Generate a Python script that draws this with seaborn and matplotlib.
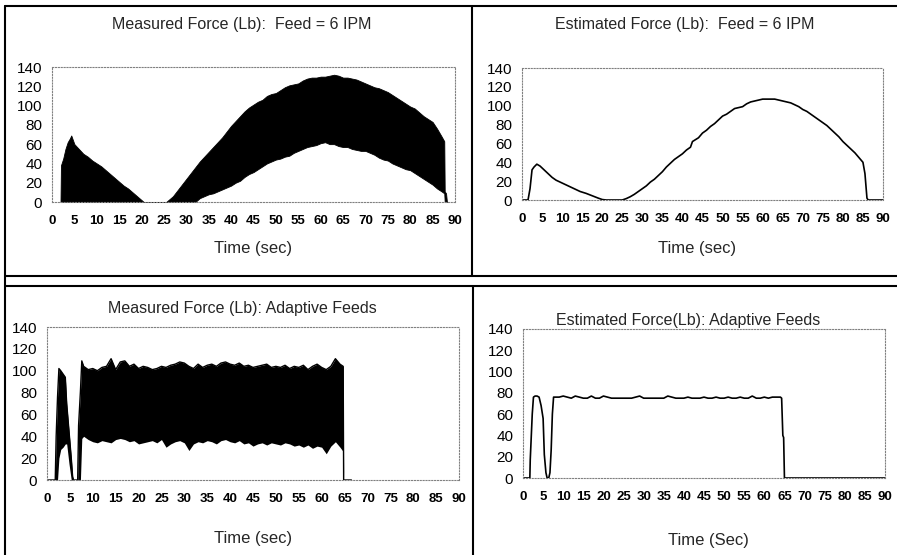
import matplotlib
matplotlib.use("Agg")
import matplotlib.pyplot as plt
from matplotlib.lines import Line2D
import seaborn as sns
import pandas as pd

sns.set_style("white")
plt.rcParams['font.family'] = ['Liberation Sans', 'DejaVu Sans']

# --- Measured force, feed = 6 IPM (envelope of the dense signal) ---
tl_time = [1.9, 2.0, 2.5, 3, 3.5, 4, 4.3, 5, 6, 7, 8, 9, 10, 11, 12, 13, 14, 15, 16, 17, 18, 19, 20, 20.5,
           25.5, 26, 27, 28, 29, 30, 31, 32, 33, 34, 35, 36, 37, 38, 39, 40, 41, 42, 43, 44, 45, 46, 47, 48,
           49, 50, 51, 52, 53, 54, 55, 56, 57, 58, 59, 60, 61, 62, 63, 64, 65, 66, 67, 68, 69, 70, 71, 72,
           73, 74, 75, 76, 77, 78, 79, 80, 81, 82, 83, 84, 85, 86, 87, 87.6, 87.7, 88, 88.2]
tl_upper = [0, 38, 45, 55, 62, 66, 69, 60, 55, 50, 47, 43, 40, 37, 33, 29, 25, 21, 17, 14, 10, 6, 2, 0,
            0, 2, 6, 12, 18, 24, 30, 36, 42, 47, 52, 57, 62, 67, 73, 79, 84, 89, 94, 98, 101, 104, 106, 110,
            112, 113, 116, 119, 121, 122, 123, 126, 128, 129, 129, 130, 130, 131, 132, 131, 129, 129, 128, 127, 125, 123, 121, 119,
            118, 116, 114, 111, 108, 105, 102, 99, 97, 93, 89, 86, 83, 76, 68, 63, 11, 9, 0]
tl_lower = [0, 0, 0, 0, 0, 0, 0, 0, 0, 0, 0, 0, 0, 0, 0, 0, 0, 0, 0, 0, 0, 0, 0, 0,
            0, 0, 0, 0, 0, 0, 0, 0, 4, 6, 8, 9, 11, 13, 15, 17, 20, 22, 26, 29, 31, 34, 37, 40,
            42, 44, 45, 47, 48, 51, 53, 55, 57, 58, 59, 61, 62, 60, 60, 58, 57, 57, 55, 54, 53, 53, 51, 49,
            46, 44, 43, 40, 38, 36, 34, 33, 30, 27, 24, 21, 18, 14, 11, 9, 0, 0, 0]

# --- Estimated force, feed = 6 IPM ---
tr_time = [0, 1.5, 2, 2.5, 3, 3.7, 4.5, 5.5, 6.5, 7.5, 8.5, 10, 11.5, 13, 14.5, 16, 17.5, 19, 20, 21, 25,
           26, 27, 28, 29, 30, 31, 32, 33, 34, 35, 36, 37, 38, 39, 40, 41, 42, 42.5, 44, 45, 46, 47, 48, 49,
           50, 51, 52, 53, 54, 55, 56, 57, 58, 59, 60, 61, 62, 63, 64, 65, 66, 67, 68, 69, 70, 71, 72, 73,
           74, 75, 76, 77, 78, 79, 80, 81, 82, 83, 84, 85, 85.5, 86, 86.3, 90]
tr_force = [0, 0, 12, 32, 35, 38, 36, 32, 28, 24, 21, 18, 15, 12, 9, 7, 4.5, 2, 0.5, 0, 0,
            1.5, 3.5, 6, 9, 12, 15, 19, 22, 26, 30, 35, 39, 43, 46, 49, 53, 56, 62, 66, 71, 74, 78, 81, 85,
            89, 91, 94, 97, 98, 99, 102, 104, 105, 106, 107, 107, 107, 107, 106, 105, 104, 103, 101, 99, 96, 94, 91, 88,
            85, 82, 79, 75, 71, 67, 62, 58, 54, 50, 45, 40, 28, 2, 0, 0]

# --- Measured force, adaptive feeds (envelope) ---
bl_time = [0, 1.8, 2.0, 2.3, 2.6, 3.0, 3.5, 4.0, 4.3, 4.8, 5.3, 5.6, 5.8, 6.7, 6.9, 7.3, 7.6,
           8, 9, 10, 11, 12, 13, 14, 15, 16, 17, 18, 19, 20, 21, 22, 23, 24, 25, 26, 27, 28, 29, 30,
           31, 32, 33, 34, 35, 36, 37, 38, 39, 40, 41, 42, 43, 44, 45, 46, 47, 48, 49, 50, 51, 52, 53,
           54, 55, 56, 57, 58, 59, 60, 61, 62, 63, 64, 64.7, 64.8, 66.5]
bl_upper = [0, 0, 40, 76, 102, 100, 97, 94, 70, 45, 20, 3, 0, 0, 50, 81, 109,
            104, 101, 102, 100, 103, 104, 111, 101, 108, 109, 104, 106, 102, 104, 103, 101, 102, 104, 103, 105, 106, 108, 107,
            104, 102, 106, 103, 105, 106, 104, 107, 108, 106, 105, 107, 104, 105, 103, 104, 105, 106, 103, 104, 103, 105, 102,
            104, 103, 105, 101, 104, 106, 103, 101, 104, 111, 106, 104, 0, 0]
bl_lower = [0, 0, 0, 0, 20, 28, 30, 33, 33, 15, 0, 0, 0, 0, 0, 0, 38,
            40, 37, 35, 34, 36, 35, 34, 37, 38, 37, 35, 36, 33, 34, 35, 36, 34, 37, 30, 33, 35, 36, 34,
            27, 33, 35, 34, 36, 35, 33, 36, 37, 35, 34, 36, 33, 34, 31, 33, 34, 32, 34, 33, 32, 34, 33,
            31, 32, 30, 32, 29, 31, 30, 24, 31, 35, 30, 26, 0, 0]

# --- Estimated force, adaptive feeds ---
br_time = [0, 1.7, 1.8, 2.3, 2.6, 3, 3.5, 4, 4.5, 5, 5.3, 5.7, 6.0, 6.4, 6.7, 7.0, 7.3, 7.6,
           8, 9, 10, 11, 12, 13, 14, 15, 16, 17, 18, 19, 20, 21, 22, 23, 24, 25, 26, 27, 28, 29, 30,
           31, 32, 33, 34, 35, 36, 37, 38, 39, 40, 41, 42, 43, 44, 45, 46, 47, 48, 49, 50, 51, 52, 53,
           54, 55, 56, 57, 58, 59, 60, 61, 62, 63, 64, 64.3, 64.6, 64.8, 65.0, 90]
br_force = [0, 0, 17, 60, 76, 77, 77, 76, 68, 56, 22, 5, 0, 0, 5, 26, 60, 76,
            76, 76, 77, 76, 75, 77, 76, 75, 75, 77, 75, 75, 77, 76, 75, 75, 75, 75, 75, 75, 76, 77, 75,
            75, 75, 75, 75, 75, 77, 76, 75, 75, 75, 76, 75, 75, 75, 76, 75, 75, 76, 75, 75, 76, 75, 75,
            76, 75, 75, 77, 75, 75, 76, 75, 76, 76, 76, 75, 40, 38, 0, 0]

titles = ["Measured Force (Lb):  Feed = 6 IPM", "Estimated Force (Lb):  Feed = 6 IPM",
          "Measured Force (Lb): Adaptive Feeds", "Estimated Force(Lb): Adaptive Feeds"]
xlabels = ["Time (sec)", "Time (sec)", "Time (sec)", "Time (Sec)"]
x_ticks = list(range(0, 95, 5))
y_ticks = list(range(0, 160, 20))

W, H = 897, 555
fig = plt.figure(figsize=(W / 100, H / 100), dpi=100)


def px_rect(x0, y0, x1, y1):
    return [x0 / W, 1 - y1 / H, (x1 - x0) / W, (y1 - y0) / H]


def style(ax):
    ax.set_xlim(0, 90)
    ax.set_ylim(0, 140)
    ax.set_xticks(x_ticks)
    ax.set_yticks(y_ticks)
    ax.set_xlabel("")
    ax.set_ylabel("")
    for sp in ax.spines.values():
        sp.set_visible(True)
        sp.set_color("#808080")
        sp.set_linewidth(0.8)
        sp.set_linestyle((0, (1, 1.6)))
    ax.tick_params(axis="x", direction="out", length=2.5, width=0.7, color="#555555",
                   pad=7, labelsize=9.5, labelcolor="black")
    ax.tick_params(axis="y", direction="out", length=2.5, width=0.7, color="#555555",
                   pad=4.5, labelsize=11, labelcolor="black")
    for lab in ax.get_xticklabels():
        lab.set_fontweight("bold")


# panel rectangles (pixels)
rects = [(52, 67, 455, 202), (522, 68, 883, 200), (47, 327, 459, 480), (523, 329, 885, 478)]
axes = [fig.add_axes(px_rect(*r)) for r in rects]

# top-left: measured, constant feed
ax = axes[0]
ax.fill_between(tl_time, tl_lower, tl_upper, color="black", linewidth=0.6, edgecolor="black")
style(ax)

# top-right: estimated, constant feed
ax = axes[1]
df_tr = pd.DataFrame({"t": tr_time, "f": tr_force})
sns.lineplot(data=df_tr, x="t", y="f", ax=ax, color="black", linewidth=1.2, estimator=None)
style(ax)

# bottom-left: measured, adaptive feeds
ax = axes[2]
ax.fill_between(bl_time, bl_lower, bl_upper, color="black", linewidth=0)
df_bl = pd.DataFrame({"t": bl_time, "f": bl_upper})
sns.lineplot(data=df_bl, x="t", y="f", ax=ax, color="black", linewidth=1.0, estimator=None)
style(ax)

# bottom-right: estimated, adaptive feeds
ax = axes[3]
df_br = pd.DataFrame({"t": br_time, "f": br_force})
sns.lineplot(data=df_br, x="t", y="f", ax=ax, color="black", linewidth=1.2, estimator=None)
style(ax)

# titles and axis labels placed like the original sheet
title_pos = [(242, 25), (685, 25), (242, 308), (688, 320)]
xlabel_pos = [(253, 248), (697, 248), (253, 538), (708, 540)]
for t, (x, y) in zip(titles, title_pos):
    fig.text(x / W, 1 - y / H, t, ha="center", va="center", fontsize=11.5)
for t, (x, y) in zip(xlabels, xlabel_pos):
    fig.text(x / W, 1 - y / H, t, ha="center", va="center", fontsize=12)

# panel borders
borders = [((5, 6), (897, 6)), ((472, 6), (472, 276)), ((5, 276), (897, 276)),
           ((5, 286), (897, 286)), ((473, 286), (473, 555)), ((5, 6), (5, 555))]
for (x0, y0), (x1, y1) in borders:
    fig.add_artist(Line2D([x0 / W, x1 / W], [1 - y0 / H, 1 - y1 / H], color="black",
                          linewidth=1.5, transform=fig.transFigure))

fig.savefig("out.png", dpi=100)
